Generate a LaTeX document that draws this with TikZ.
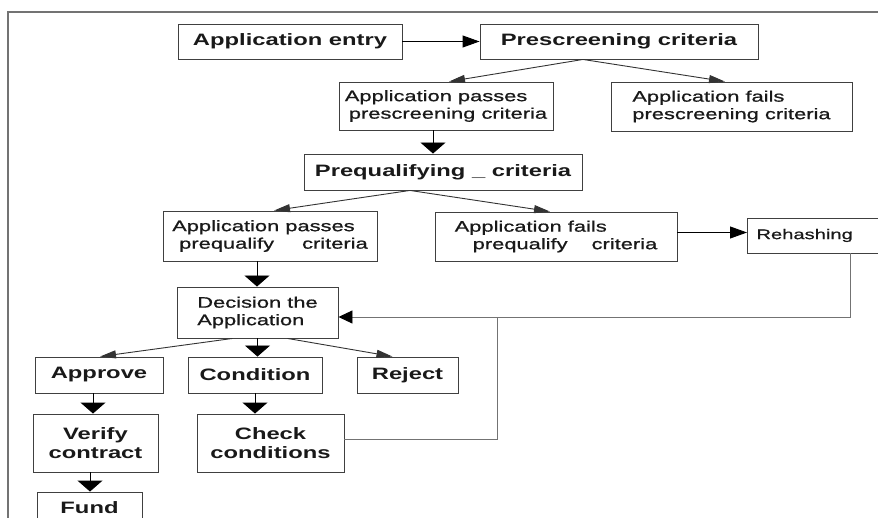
\documentclass[tikz,border=0pt]{standalone}
\usepackage{fontspec}
\setmainfont{Liberation Sans}[FakeStretch=1.44]
\newfontfamily\medf{Liberation Sans}[FakeStretch=1.44,FakeBold=0.8]
\usetikzlibrary{arrows.meta,calc}
\begin{document}
\begin{tikzpicture}[x=1pt,y=-1pt,
  box/.style={draw=black!75, line width=0.9pt, rectangle, inner sep=0pt, text=black!90},
  bt/.style={font=\fontsize{16.5}{18.5}\selectfont\bfseries},
  rt/.style={font=\fontsize{15.2}{17.5}\selectfont\medf},
  arr/.style={draw=black, line width=0.9pt, -{Triangle[length=11pt,width=25pt]}},
  harr/.style={draw=black, line width=0.9pt, -{Triangle[length=17pt,width=12pt]}},
  darr/.style={draw=black!80, line width=0.9pt, -{Triangle[length=16pt,width=8pt]}},
  fb/.style={draw=black!55, line width=0.9pt},
  frame/.style={draw=black!55, line width=1.3pt}
]
\useasboundingbox (0,0) rectangle (878,518);
\clip (0,0) rectangle (878,518);
\fill[white] (0,0) rectangle (878,518);
\draw[frame] (8,520) -- (8,12) -- (880,12);

\node[box,bt,minimum width=224pt,minimum height=35pt] (entry) at (290,41.5) {Application entry};
\node[box,bt,minimum width=278pt,minimum height=35pt] (pre) at (619,41.5) {Prescreening criteria};
\node[box,rt,align=left,minimum width=214pt,minimum height=48pt] (pp) at (446,106) {Application passes\\\hspace*{4pt}prescreening criteria};
\node[box,rt,align=left,minimum width=241pt,minimum height=49pt] (fpre) at (731.5,106.5) {Application fails\\prescreening criteria};
\node[box,bt,minimum width=278pt,minimum height=36pt] (pq) at (443,172) {Prequalifying\ \_\ criteria};
\node[box,rt,align=left,minimum width=214pt,minimum height=50pt] (ppq) at (270,236) {Application passes\\\hspace*{7pt}prequalify\hspace{28pt}criteria};
\node[box,rt,align=left,minimum width=242pt,minimum height=49pt] (fpq) at (556,236.5) {Application fails\\\hspace*{18pt}prequalify\hspace{24pt}criteria};
\node[box,font=\fontsize{14}{16}\selectfont\medf,anchor=west,text width=180pt,align=left,inner xsep=9pt,minimum height=35pt] (reh) at (747,235.5) {Rehashing};
\node[box,rt,align=left,minimum width=161pt,minimum height=51pt] (dec) at (257.5,312.5) {Decision the\\Application};
\node[box,bt,minimum width=128pt,minimum height=36pt] (appr) at (99,375) {Approve};
\node[box,bt,minimum width=134pt,minimum height=36pt] (cond) at (255,375) {Condition};
\node[box,bt,minimum width=101pt,minimum height=36pt] (rej) at (407.5,375) {Reject};
\node[box,bt,align=center,minimum width=125pt,minimum height=58pt] (ver) at (95.5,443) {Verify\\contract};
\node[box,bt,align=center,minimum width=147pt,minimum height=58pt] (chk) at (270.5,443) {Check\\conditions};
\node[box,bt,minimum width=105pt,minimum height=31pt] (fund) at (89.5,507.5) {Fund};

\draw[harr] (entry) -- (pre);
\coordinate (preb) at ($(pre.south)+(-36,0)$);
\draw[darr] (preb) -- ($(pp.north)+(3,0)$);
\draw[darr] (preb) -- ($(fpre.north)+(-6.5,0)$);
\coordinate (a1) at ($(pp.south)+(-13,0)$);
\draw[arr] (a1) -- (a1 |- pq.north);
\coordinate (pqb) at ($(pq.south)+(-33,0)$);
\draw[darr] (pqb) -- ($(ppq.north)+(4,0)$);
\draw[darr] (pqb) -- ($(fpq.north)+(-6,0)$);
\coordinate (a2) at ($(ppq.south)+(-13,0)$);
\draw[arr] (a2) -- (a2 |- dec.north);
\draw[harr] ([yshift=4pt]fpq.east) -- ([yshift=4pt]fpq.east -| reh.west);

\coordinate (rx) at (850,0);
\coordinate (j) at (497,317);
\draw[fb,-{Triangle[length=14pt,width=13pt,color=black]}] (reh.south -| rx) |- ([yshift=-4.5pt]dec.east);
\draw[fb] ([yshift=4pt]chk.east) -| (j);

\coordinate (dl) at ($(dec.south)+(-25,0)$);
\coordinate (dr) at ($(dec.south)+(30,0)$);
\draw[darr] (dl) -- ($(appr.north)+(1,0)$);
\draw[darr] (dr) -- ($(rej.north)+(-15,0)$);
\draw[arr] (dec.south) -- (dec.south |- cond.north);
\coordinate (a3) at ($(appr.south)+(-6,0)$);
\draw[arr] (a3) -- (a3 |- ver.north);
\draw[arr] (cond.south) -- (cond.south |- chk.north);
\coordinate (a4) at ($(ver.south)+(-5.5,0)$);
\draw[arr] (a4) -- (a4 |- fund.north);
\end{tikzpicture}
\end{document}
